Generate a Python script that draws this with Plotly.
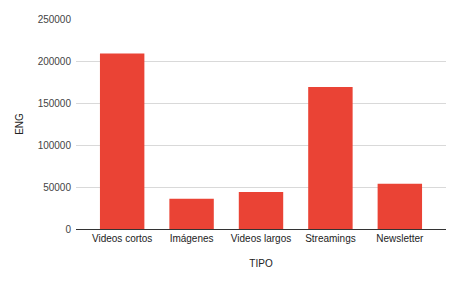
import plotly.graph_objects as go

categories = ["Videos cortos", "Imágenes", "Videos largos", "Streamings", "Newsletter"]
values = [209000, 36000, 44000, 169000, 54000]
y_ticks = [0, 50000, 100000, 150000, 200000, 250000]

fig = go.Figure(go.Bar(x=categories, y=values, marker_color="#EA4335",
                       marker_line_width=0))
fig.update_layout(
    width=460, height=284,
    margin=dict(l=76, r=14, t=19, b=55, autoexpand=False),
    paper_bgcolor="white", plot_bgcolor="white",
    bargap=0.36,
    font=dict(family="Liberation Sans, Arial", size=10, color="#222222"),
    showlegend=False,
)
fig.update_xaxes(title_text="TIPO", title_font=dict(size=10, color="#222222"),
                 title_standoff=16, showgrid=False, showline=True,
                 range=[-0.665, 4.665],
                 linecolor="#333333", linewidth=1, ticks="", tickfont=dict(size=10))
fig.update_yaxes(title_text="ENG", title_font=dict(size=10, color="#222222"),
                 range=[0, 250000], tickvals=y_ticks,
                 ticktext=[str(v) for v in y_ticks],
                 showgrid=True, gridcolor="#d9d9d9", gridwidth=1,
                 zeroline=False, ticks="", ticklabelstandoff=4,
                 tickfont=dict(size=10, color="#444444"),
                 title_standoff=12)
fig.write_html("out.html")
